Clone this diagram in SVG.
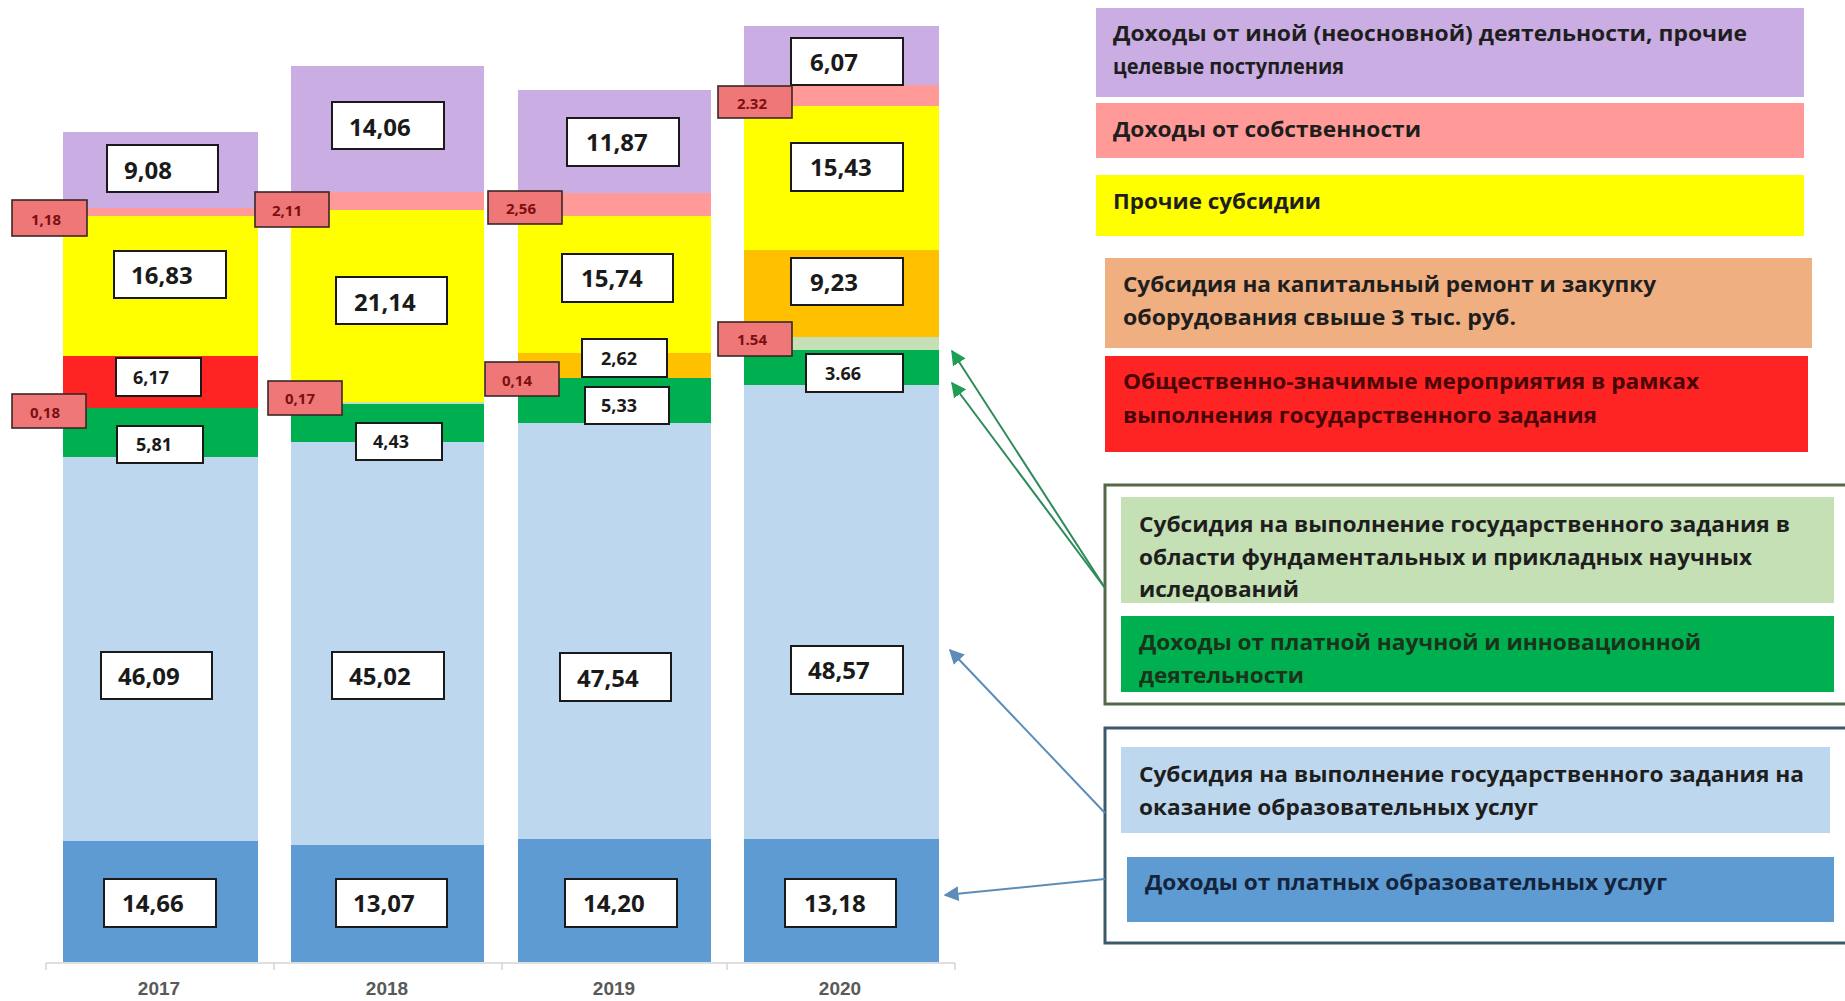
<svg xmlns="http://www.w3.org/2000/svg" width="1845" height="1001" viewBox="0 0 1845 1001">
<defs>
<style>
text{font-family:"Open Sans","Liberation Sans",sans-serif;font-weight:bold;}
.lb rect{fill:#fff;stroke:#1a1a1a;stroke-width:2;}
.lb text{fill:#1a1a1a;}
.big{font-size:24px;}
.mid{font-size:18px;}
.rl rect{fill:#EF7777;stroke:#3a2626;stroke-width:1.6;}
.rl text{font-size:15px;fill:#7a1010;}
.leg text{font-size:22px;fill:#1e1e1e;}
.yr{font-size:19px;fill:#595959;text-anchor:middle;font-family:"Liberation Sans Narrow","Liberation Sans",sans-serif;}
.pu{fill:#CAADE3;}.pk{fill:#FF9A98;}.ye{fill:#FFFF00;}.or{fill:#FFC000;}.rd{fill:#FF2424;}
.lg{fill:#C5E0B4;}.gr{fill:#00B050;}.lbf{fill:#BDD7EE;}.db{fill:#5E9BD3;}.pe{fill:#F0AF80;}
.cg{stroke:#2E8A5A;stroke-width:2;fill:none;}
.cb{stroke:#5B8DB8;stroke-width:2;fill:none;}
</style>
<marker id="ag" viewBox="0 0 10 10" refX="9" refY="5" markerWidth="7.5" markerHeight="7.5" orient="auto" markerUnits="strokeWidth">
<path d="M0,0 L10,5 L0,10 z" fill="#1E9E55"/>
</marker>
<marker id="ab" viewBox="0 0 10 10" refX="9" refY="5" markerWidth="7.5" markerHeight="7.5" orient="auto" markerUnits="strokeWidth">
<path d="M0,0 L10,5 L0,10 z" fill="#5B8DB8"/>
</marker>
</defs>
<rect width="1845" height="1001" fill="#fff"/>

<!-- bars -->
<g id="bar-2017">
<rect class="pu" x="63" y="132" width="195" height="76"/>
<rect class="pk" x="63" y="208" width="195" height="8"/>
<rect class="ye" x="63" y="216" width="195" height="140"/>
<rect class="rd" x="63" y="356" width="195" height="52"/>
<rect class="gr" x="63" y="408" width="195" height="49"/>
<rect class="lbf" x="63" y="457" width="195" height="384"/>
<rect class="db" x="63" y="841" width="195" height="121"/>
</g>
<g id="bar-2018">
<rect class="pu" x="291" y="66" width="193" height="126"/>
<rect class="pk" x="291" y="192" width="193" height="18"/>
<rect class="ye" x="291" y="210" width="193" height="193"/>
<rect class="lg" x="291" y="402" width="193" height="2"/>
<rect class="gr" x="291" y="404" width="193" height="38"/>
<rect class="lbf" x="291" y="442" width="193" height="403"/>
<rect class="db" x="291" y="845" width="193" height="117"/>
</g>
<g id="bar-2019">
<rect class="pu" x="518" y="90" width="193" height="103"/>
<rect class="pk" x="518" y="193" width="193" height="23"/>
<rect class="ye" x="518" y="216" width="193" height="137"/>
<rect class="or" x="518" y="353" width="193" height="25"/>
<rect class="gr" x="518" y="378" width="193" height="45"/>
<rect class="lbf" x="518" y="423" width="193" height="416"/>
<rect class="db" x="518" y="839" width="193" height="123"/>
</g>
<g id="bar-2020">
<rect class="pu" x="744" y="26" width="195" height="59"/>
<rect class="pk" x="744" y="85" width="195" height="21"/>
<rect class="ye" x="744" y="106" width="195" height="144"/>
<rect class="or" x="744" y="250" width="195" height="87"/>
<rect class="lg" x="744" y="337" width="195" height="13"/>
<rect class="gr" x="744" y="350" width="195" height="35"/>
<rect class="lbf" x="744" y="385" width="195" height="454"/>
<rect class="db" x="744" y="839" width="195" height="123"/>
</g>

<!-- axis -->
<g id="axis" stroke="#d4d4d4" stroke-width="1.5">
<line x1="46" y1="963" x2="955" y2="963"/>
<line x1="46" y1="963" x2="46" y2="970"/>
<line x1="274" y1="963" x2="274" y2="970"/>
<line x1="502" y1="963" x2="502" y2="970"/>
<line x1="727" y1="963" x2="727" y2="970"/>
<line x1="955" y1="963" x2="955" y2="970"/>
</g>
<g id="years">
<text class="yr" x="159" y="995">2017</text>
<text class="yr" x="387" y="995">2018</text>
<text class="yr" x="614" y="995">2019</text>
<text class="yr" x="840" y="995">2020</text>
</g>

<!-- value labels -->
<g id="labels-2017">
<g class="lb" id="v-2017-908"><rect x="107" y="145" width="111" height="47"/><text class="big" x="124" y="179">9,08</text></g>
<g class="rl" id="v-2017-118"><rect x="12" y="200" width="75" height="36"/><text x="31" y="225">1,18</text></g>
<g class="lb" id="v-2017-1683"><rect x="114" y="251" width="112" height="47"/><text class="big" x="131" y="284">16,83</text></g>
<g class="lb" id="v-2017-617"><rect x="116" y="358" width="85" height="38"/><text class="mid" x="133" y="384">6,17</text></g>
<g class="rl" id="v-2017-018"><rect x="12" y="394" width="74" height="34"/><text x="30" y="418">0,18</text></g>
<g class="lb" id="v-2017-581"><rect x="117" y="426" width="86" height="37"/><text class="mid" x="136" y="451">5,81</text></g>
<g class="lb" id="v-2017-4609"><rect x="101" y="652" width="111" height="47"/><text class="big" x="118" y="685">46,09</text></g>
<g class="lb" id="v-2017-1466"><rect x="104" y="879" width="112" height="48"/><text class="big" x="122" y="912">14,66</text></g>
</g>
<g id="labels-2018">
<g class="lb" id="v-2018-1406"><rect x="332" y="102" width="112" height="47"/><text class="big" x="349" y="136">14,06</text></g>
<g class="rl" id="v-2018-211"><rect x="255" y="192" width="74" height="35"/><text x="272" y="216">2,11</text></g>
<g class="lb" id="v-2018-2114"><rect x="336" y="277" width="111" height="47"/><text class="big" x="354" y="311">21,14</text></g>
<g class="rl" id="v-2018-017"><rect x="268" y="381" width="74" height="34"/><text x="285" y="404">0,17</text></g>
<g class="lb" id="v-2018-443"><rect x="356" y="423" width="86" height="37"/><text class="mid" x="373" y="448">4,43</text></g>
<g class="lb" id="v-2018-4502"><rect x="332" y="652" width="112" height="47"/><text class="big" x="349" y="685">45,02</text></g>
<g class="lb" id="v-2018-1307"><rect x="336" y="879" width="111" height="48"/><text class="big" x="353" y="912">13,07</text></g>
</g>
<g id="labels-2019">
<g class="lb" id="v-2019-1187"><rect x="567" y="118" width="112" height="48"/><text class="big" x="586" y="151">11,87</text></g>
<g class="rl" id="v-2019-256"><rect x="488" y="191" width="74" height="33"/><text x="506" y="214">2,56</text></g>
<g class="lb" id="v-2019-1574"><rect x="562" y="254" width="111" height="48"/><text class="big" x="581" y="287">15,74</text></g>
<g class="lb" id="v-2019-262"><rect x="582" y="339" width="85" height="38"/><text class="mid" x="601" y="365">2,62</text></g>
<g class="rl" id="v-2019-014"><rect x="485" y="362" width="74" height="34"/><text x="502" y="386">0,14</text></g>
<g class="lb" id="v-2019-533"><rect x="585" y="387" width="84" height="37"/><text class="mid" x="601" y="412">5,33</text></g>
<g class="lb" id="v-2019-4754"><rect x="560" y="653" width="111" height="48"/><text class="big" x="577" y="687">47,54</text></g>
<g class="lb" id="v-2019-1420"><rect x="565" y="879" width="112" height="48"/><text class="big" x="583" y="912">14,20</text></g>
</g>
<g id="labels-2020">
<g class="lb" id="v-2020-607"><rect x="791" y="38" width="112" height="47"/><text class="big" x="810" y="71">6,07</text></g>
<g class="rl" id="v-2020-232"><rect x="718" y="86" width="74" height="32"/><text x="737" y="109">2.32</text></g>
<g class="lb" id="v-2020-1543"><rect x="791" y="143" width="112" height="48"/><text class="big" x="810" y="176">15,43</text></g>
<g class="lb" id="v-2020-923"><rect x="791" y="258" width="112" height="47"/><text class="big" x="810" y="291">9,23</text></g>
<g class="rl" id="v-2020-154"><rect x="718" y="322" width="74" height="34"/><text x="737" y="345">1.54</text></g>
<g class="lb" id="v-2020-366"><rect x="806" y="354" width="97" height="38"/><text class="mid" x="825" y="380">3.66</text></g>
<g class="lb" id="v-2020-4857"><rect x="791" y="646" width="112" height="48"/><text class="big" x="808" y="679">48,57</text></g>
<g class="lb" id="v-2020-1318"><rect x="785" y="879" width="111" height="48"/><text class="big" x="804" y="912">13,18</text></g>
</g>

<!-- legend -->
<g id="legend" class="leg">
<g id="leg-other"><rect class="pu" x="1096" y="8" width="708" height="89"/>
<text x="1113" y="41" textLength="634" lengthAdjust="spacingAndGlyphs">Доходы от иной (неосновной) деятельности, прочие</text>
<text x="1113" y="74" textLength="231" lengthAdjust="spacingAndGlyphs">целевые поступления</text></g>
<g id="leg-property"><rect class="pk" x="1096" y="103" width="708" height="55"/>
<text x="1113" y="137" textLength="308" lengthAdjust="spacingAndGlyphs">Доходы от собственности</text></g>
<g id="leg-othersub"><rect class="ye" x="1096" y="175" width="708" height="61"/>
<text x="1113" y="209" textLength="208" lengthAdjust="spacingAndGlyphs">Прочие субсидии</text></g>
<g id="leg-capital"><rect class="pe" x="1105" y="258" width="707" height="90"/>
<text x="1123" y="292" textLength="533" lengthAdjust="spacingAndGlyphs">Субсидия на капитальный ремонт и закупку</text>
<text x="1123" y="325" textLength="393" lengthAdjust="spacingAndGlyphs">оборудования свыше 3 тыс. руб.</text></g>
<g id="leg-public"><rect class="rd" x="1105" y="356" width="703" height="96"/>
<text x="1123" y="389" textLength="576" lengthAdjust="spacingAndGlyphs" style="fill:#4a0606">Общественно-значимые мероприятия в рамках</text>
<text x="1123" y="423" textLength="474" lengthAdjust="spacingAndGlyphs" style="fill:#4a0606">выполнения государственного задания</text></g>

<g id="frame-science"><rect x="1105" y="485" width="745" height="219" fill="none" stroke="#55694A" stroke-width="3"/></g>
<g id="leg-sci-sub"><rect class="lg" x="1121" y="497" width="713" height="106"/>
<text x="1139" y="532" textLength="651" lengthAdjust="spacingAndGlyphs">Субсидия на выполнение государственного задания в</text>
<text x="1139" y="565" textLength="613" lengthAdjust="spacingAndGlyphs">области фундаментальных и прикладных научных</text>
<text x="1139" y="597" textLength="160" lengthAdjust="spacingAndGlyphs">иследований</text></g>
<g id="leg-sci-paid"><rect class="gr" x="1121" y="616" width="713" height="76"/>
<text x="1139" y="650" textLength="562" lengthAdjust="spacingAndGlyphs" style="fill:#1b331b">Доходы от платной научной и инновационной</text>
<text x="1139" y="683" textLength="165" lengthAdjust="spacingAndGlyphs" style="fill:#1b331b">деятельности</text></g>

<g id="frame-edu"><rect x="1105" y="728" width="745" height="215" fill="none" stroke="#3E5A6A" stroke-width="3"/></g>
<g id="leg-edu-sub"><rect class="lbf" x="1121" y="747" width="709" height="86"/>
<text x="1139" y="782" textLength="665" lengthAdjust="spacingAndGlyphs">Субсидия на выполнение государственного задания на</text>
<text x="1139" y="815" textLength="399" lengthAdjust="spacingAndGlyphs">оказание образовательных услуг</text></g>
<g id="leg-edu-paid"><rect class="db" x="1127" y="857" width="707" height="65"/>
<text x="1145" y="890" textLength="522" lengthAdjust="spacingAndGlyphs" style="fill:#14243a">Доходы от платных образовательных услуг</text></g>
</g>

<!-- connectors -->
<g id="connectors">
<line class="cg" x1="1105" y1="588" x2="952" y2="351" marker-end="url(#ag)"/>
<line class="cg" x1="1105" y1="588" x2="952" y2="383" marker-end="url(#ag)"/>
<line class="cb" x1="1105" y1="813" x2="950" y2="650" marker-end="url(#ab)"/>
<line class="cb" x1="1105" y1="879" x2="945" y2="895" marker-end="url(#ab)"/>
</g>
</svg>
